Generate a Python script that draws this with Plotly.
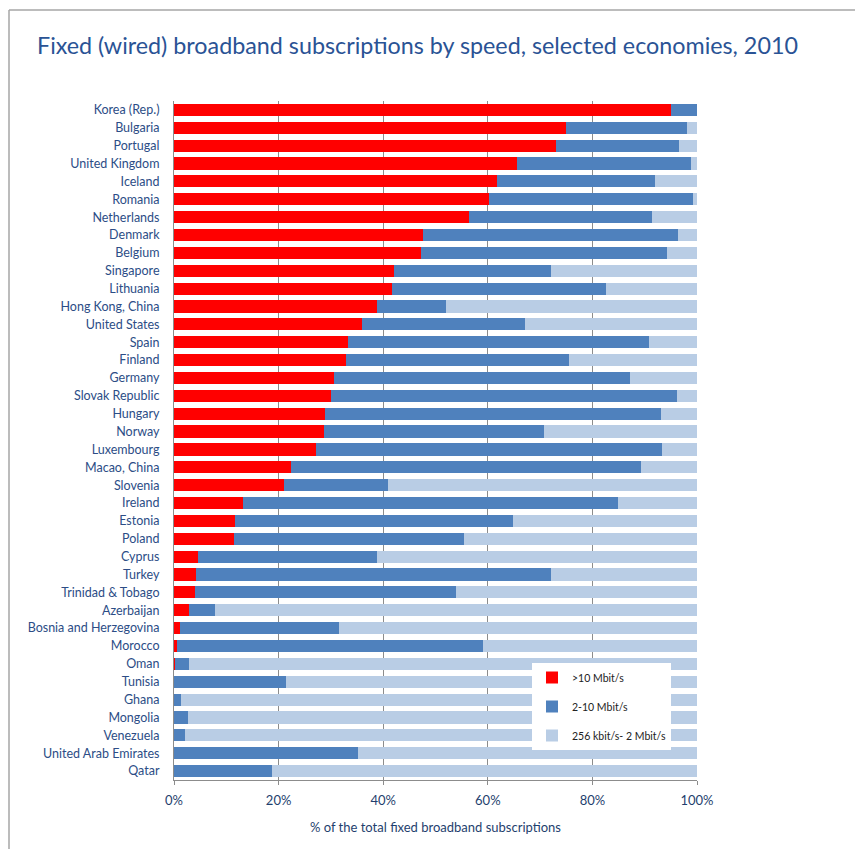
import plotly.graph_objects as go

countries = ["Korea (Rep.)", "Bulgaria", "Portugal", "United Kingdom", "Iceland", "Romania",
             "Netherlands", "Denmark", "Belgium", "Singapore", "Lithuania", "Hong Kong, China",
             "United States", "Spain", "Finland", "Germany", "Slovak Republic", "Hungary",
             "Norway", "Luxembourg", "Macao, China", "Slovenia", "Ireland", "Estonia", "Poland",
             "Cyprus", "Turkey", "Trinidad & Tobago", "Azerbaijan", "Bosnia and Herzegovina",
             "Morocco", "Oman", "Tunisia", "Ghana", "Mongolia", "Venezuela",
             "United Arab Emirates", "Qatar"]

over_10 = [95.1, 75.0, 73.0, 65.6, 61.7, 60.3, 56.4, 47.7, 47.2, 42.1, 41.7, 38.9,
           36.0, 33.3, 32.8, 30.5, 30.1, 28.9, 28.7, 27.2, 22.3, 21.0, 13.2, 11.7, 11.5,
           4.6, 4.2, 4.0, 2.8, 1.1, 0.5, 0.1, 0.0, 0.0, 0.0, 0.0, 0.0, 0.0]

from_2_to_10 = [4.9, 23.0, 23.6, 33.2, 30.2, 39.0, 35.0, 48.7, 47.1, 30.0, 40.9, 13.2,
                31.1, 57.6, 42.8, 56.6, 66.0, 64.2, 42.1, 66.2, 67.0, 20.0, 71.6, 53.1, 44.0,
                34.3, 67.8, 49.9, 5.1, 30.4, 58.6, 2.7, 21.5, 1.3, 2.6, 2.1, 35.2, 18.8]

from_256k_to_2 = [0.0, 2.0, 3.4, 1.2, 8.1, 0.7, 8.6, 3.6, 5.7, 27.9, 17.4, 47.9,
                  32.9, 9.1, 24.4, 12.9, 3.9, 6.9, 29.2, 6.6, 10.7, 59.0, 15.2, 35.2, 44.5,
                  61.1, 28.0, 46.1, 92.1, 68.5, 40.9, 97.2, 78.5, 98.7, 97.4, 97.9, 64.8, 81.2]

series_names = [">10 Mbit/s", "2-10 Mbit/s", "256 kbit/s- 2 Mbit/s"]
series_values = [over_10, from_2_to_10, from_256k_to_2]
series_colors = ["#FF0000", "#4F81BD", "#B9CDE5"]

tick_vals = [0, 20, 40, 60, 80, 100]
tick_text = ["0%", "20%", "40%", "60%", "80%", "100%"]

FONT = "Lato, Carlito, 'Liberation Sans', sans-serif"
TITLE_COL = "#2A5395"
LABEL_COL = "#2C4D86"

fig = go.Figure()
for name, vals, col in zip(series_names, series_values, series_colors):
    fig.add_trace(go.Bar(
        y=countries, x=vals, name=name, orientation="h",
        marker=dict(color=col, line=dict(width=0)),
        legendgroup=name,
    ))

# page shows the figure offset by the body margin (8px); work in page pixels
OFF = 8
W, H = 863 - OFF, 849 - OFF
PL, PR, PT, PB = 174, 697, 101, 780   # plot area in page pixels
L, R, T, B = PL - OFF, W - (PR - OFF), PT - OFF, H - (PB - OFF)
pw, ph = W - L - R, H - T - B

def px_x(x):
    return (x - PL) / pw

def px_y(y):
    return (PB - y) / ph

fig.update_layout(
    width=W, height=H,
    margin=dict(l=L, r=R, t=T, b=B, autoexpand=False),
    barmode="stack",
    bargap=0.32,
    paper_bgcolor="white",
    plot_bgcolor="white",
    font=dict(family=FONT, color=LABEL_COL, size=12),
    title=dict(
        text="Fixed (wired) broadband subscriptions by speed, selected economies, 2010",
        x=(37 - OFF) / W, xref="container", xanchor="left",
        y=1 - (46 - OFF) / H, yref="container", yanchor="middle",
        font=dict(family=FONT, size=23.3, color=TITLE_COL),
    ),
    showlegend=True,
    legend=dict(
        x=px_x(532), y=px_y(663), xanchor="left", yanchor="top",
        bgcolor="white", borderwidth=0,
        traceorder="grouped", tracegroupgap=10,
        font=dict(family=FONT, size=10.5, color="#222222"),
        itemwidth=30,
    ),
    xaxis=dict(
        range=[0, 100], tickvals=tick_vals, ticktext=tick_text,
        showgrid=True, gridcolor="#8C8C8C", gridwidth=1,
        zeroline=False,
        showline=True, linecolor="#8C8C8C", linewidth=1,
        ticks="outside", ticklen=4, tickcolor="#8C8C8C",
        ticklabelstandoff=4,
        tickfont=dict(family=FONT, size=13, color="#1F3F6E"),
        title=dict(text="% of the total fixed broadband subscriptions", standoff=16,
                   font=dict(family=FONT, size=13, color="#1F3F6E")),
        fixedrange=True,
    ),
    yaxis=dict(
        autorange="reversed",
        showgrid=False,
        showline=True, linecolor="#8C8C8C", linewidth=1,
        ticks="outside", ticklen=0,
        ticklabelstandoff=11,
        tickfont=dict(family=FONT, size=12.5, color=LABEL_COL),
        fixedrange=True,
    ),
    shapes=[
        dict(type="line", xref="paper", yref="paper",
             x0=px_x(9), x1=px_x(863), y0=px_y(10), y1=px_y(10),
             line=dict(color="#A6A6A6", width=1.5)),
        dict(type="line", xref="paper", yref="paper",
             x0=px_x(9), x1=px_x(9), y0=px_y(10), y1=px_y(849),
             line=dict(color="#A6A6A6", width=1.5)),
    ],
)

fig.write_html("out.html")
